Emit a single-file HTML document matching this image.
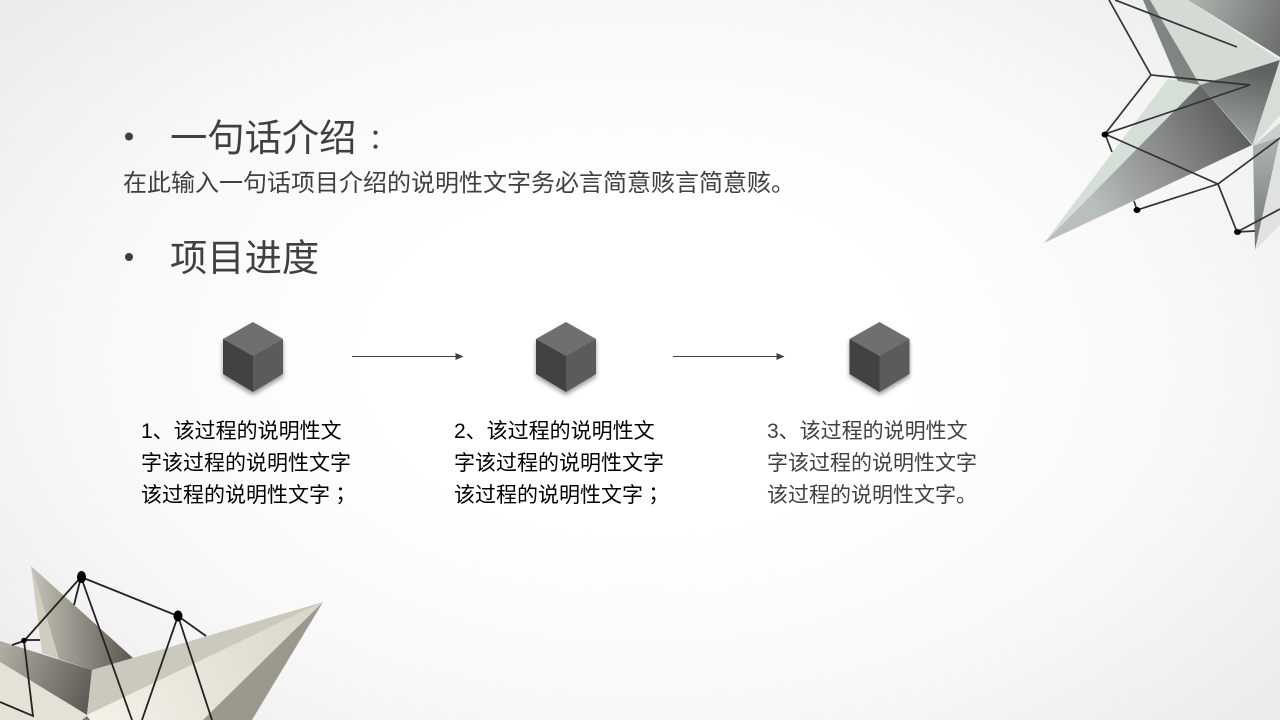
<!DOCTYPE html>
<html lang="zh"><head><meta charset="utf-8"><style>
html,body{margin:0;padding:0}
#s{position:relative;width:1280px;height:720px;overflow:hidden;background:radial-gradient(ellipse 820px 520px at 640px 360px,#fff 32%,#f8f8f8 68%,#ececec 100%);font-family:"Liberation Sans","Noto Sans CJK SC",sans-serif}
.t{position:absolute;white-space:nowrap;color:#404040}
.h{font-size:37.3px;line-height:50px;left:170px}
.p{font-size:21px;line-height:32px;top:416px}
.c{font-family:"Noto Sans CJK TC",sans-serif;line-height:0}
.k{font-size:28px;margin-left:5px;position:relative;top:-1px}
svg{position:absolute;left:0;top:0}
</style></head><body><div id="s">
<svg width="1280" height="720" viewBox="0 0 1280 720">
<defs>
<linearGradient id="a" x1="1188" y1="0" x2="1280" y2="40" gradientUnits="userSpaceOnUse"><stop offset="0" stop-color="#aeb5ae"/><stop offset="1" stop-color="#6f7270"/></linearGradient>
<linearGradient id="b" x1="1100" y1="220" x2="1252" y2="130" gradientUnits="userSpaceOnUse"><stop offset="0" stop-color="#b9c0bb"/><stop offset=".5" stop-color="#8b8d89"/><stop offset="1" stop-color="#565a58"/></linearGradient>
<linearGradient id="c" x1="1260" y1="70" x2="1240" y2="150" gradientUnits="userSpaceOnUse"><stop offset="0" stop-color="#5d625f"/><stop offset="1" stop-color="#a4aaa5"/></linearGradient>
<linearGradient id="d" x1="1255" y1="150" x2="1255" y2="248" gradientUnits="userSpaceOnUse"><stop offset="0" stop-color="#a8afaa"/><stop offset="1" stop-color="#6f7370"/></linearGradient>
<linearGradient id="e" x1="30" y1="640" x2="130" y2="640" gradientUnits="userSpaceOnUse"><stop offset="0" stop-color="#c7c3b7"/><stop offset="1" stop-color="#5e5a54"/></linearGradient>
<linearGradient id="f" x1="0" y1="650" x2="92" y2="690" gradientUnits="userSpaceOnUse"><stop offset="0" stop-color="#b1aca0"/><stop offset="1" stop-color="#5f5c57"/></linearGradient>
<linearGradient id="g" x1="90" y1="710" x2="320" y2="605" gradientUnits="userSpaceOnUse"><stop offset="0" stop-color="#f4f2e8"/><stop offset="1" stop-color="#d8d5ca"/></linearGradient>
<g id="cube"><path d="M0 0L30 17V52L0 70L-30 52V17Z" fill="#000" opacity=".4" filter="url(#bl)" transform="translate(0,3)"/>
<path d="M0 0L30 17L0 34L-30 17Z" fill="#6f6f6f"/><path d="M-30 17L0 34V70L-30 52Z" fill="#424242"/><path d="M30 17L0 34V70L30 52Z" fill="#5b5b5b"/></g>
<filter id="bl" x="-30%" y="-30%" width="160%" height="160%"><feGaussianBlur stdDeviation="2.5"/></filter>
</defs>
<!-- top right -->
<path d="M1143 0H1151L1200 85L1252 145L1190 110Z" fill="#7f8582"/>
<path d="M1150 0H1188L1280 60L1200 85Z" fill="#d3dbd4"/>
<path d="M1188 0H1280V57Z" fill="url(#a)"/>
<path d="M1200 85L1280 60L1253 145Z" fill="url(#c)"/>
<path d="M1044 243L1168 79L1200 85L1140 150Z" fill="#d6ded8"/>
<path d="M1044 243L1200 85L1252 145Z" fill="url(#b)"/>
<path d="M1253 143L1280 60V115L1253 146Z" fill="#d7ded8"/>
<path d="M1253 146L1280 123V137Z" fill="#c9cfca"/>
<path d="M1253 146L1280 137L1255 250Z" fill="url(#d)"/>
<path d="M1255 250L1280 137V225Z" fill="#dfe2de"/>
<g fill="none" stroke="#333" stroke-width="1.7">
<path d="M1109 0L1151 75L1250 85L1105 134L1151 75"/><path d="M1115 0L1237 47"/><path d="M1105 134L1112 152"/>
<path d="M1105 134L1218 184L1280 138"/><path d="M1218 184L1137 210L1134 201"/><path d="M1218 184L1237 232L1255 231"/><path d="M1237 232L1280 209"/>
</g>
<g fill="#000"><ellipse cx="1105" cy="134.500" rx="3.500" ry="3"/><ellipse cx="1137" cy="210" rx="3.500" ry="3"/><ellipse cx="1237.500" cy="232" rx="3.500" ry="3"/></g>
<!-- bottom left -->
<path d="M31 566L42 653L59 659Z" fill="#cfccc0"/>
<path d="M31 566L133 658L92 670L59 659Z" fill="url(#e)"/>
<path d="M0 641L92 670L87 715L0 662Z" fill="url(#f)"/>
<path d="M0 662L87 715L84 720H0Z" fill="#e4e1d6"/>
<path d="M92 670L323 602L87 715Z" fill="#cbc8bc"/>
<path d="M87 715L323 602L203 720H84Z" fill="url(#g)"/>
<path d="M323 602L252 720H203Z" fill="#9c988d"/>
<path d="M87 716L90 720H82Z" fill="#777"/>
<g fill="none" stroke="#222" stroke-width="1.8">
<path d="M81 577L178 616L206 636"/><path d="M81 577L24 641L12 645"/><path d="M24 640H40"/><path d="M81 577L74 605"/>
<path d="M81 577L132 720"/><path d="M178 616L142 720"/><path d="M178 616L212 720"/><path d="M24 641L33 716L0 702"/>
</g>
<g fill="#000"><ellipse cx="81.500" cy="577" rx="4.500" ry="6"/><ellipse cx="178" cy="616" rx="4.500" ry="5.500"/><circle cx="24" cy="640.500" r="2.800"/></g>
<!-- bullets -->
<circle cx="129" cy="136.500" r="4" fill="#404040"/><circle cx="129" cy="257" r="4" fill="#404040"/>
<use href="#cube" x="253" y="322"/><use href="#cube" x="566" y="322"/><use href="#cube" x="879.500" y="322"/>
<g stroke="#404040" stroke-width="1"><path d="M352 356.500H458"/><path d="M673 356.500H779"/></g>
<g fill="#404040"><path d="M463.500 356.500L455.500 353V360Z"/><path d="M784.500 356.500L776.500 353V360Z"/></g>
</svg>
<div class="t h" style="top:113px">一句话介绍<span class="c k" lang="zh-TW">：</span></div>
<div class="t" style="left:123px;top:167px;font-size:24px;line-height:34px">在此输入一句话项目介绍的说明性文字务必言简意赅言简意赅。</div>
<div class="t h" style="top:233px">项目进度</div>
<div class="t p" style="left:141px;color:#000">1、该过程的说明性文<br>字该过程的说明性文字<br>该过程的说明性文字<span class="c" lang="zh-TW">；</span></div>
<div class="t p" style="left:454px;color:#000">2、该过程的说明性文<br>字该过程的说明性文字<br>该过程的说明性文字<span class="c" lang="zh-TW">；</span></div>
<div class="t p" style="left:767px">3、该过程的说明性文<br>字该过程的说明性文字<br>该过程的说明性文字。</div>
</div></body></html>
